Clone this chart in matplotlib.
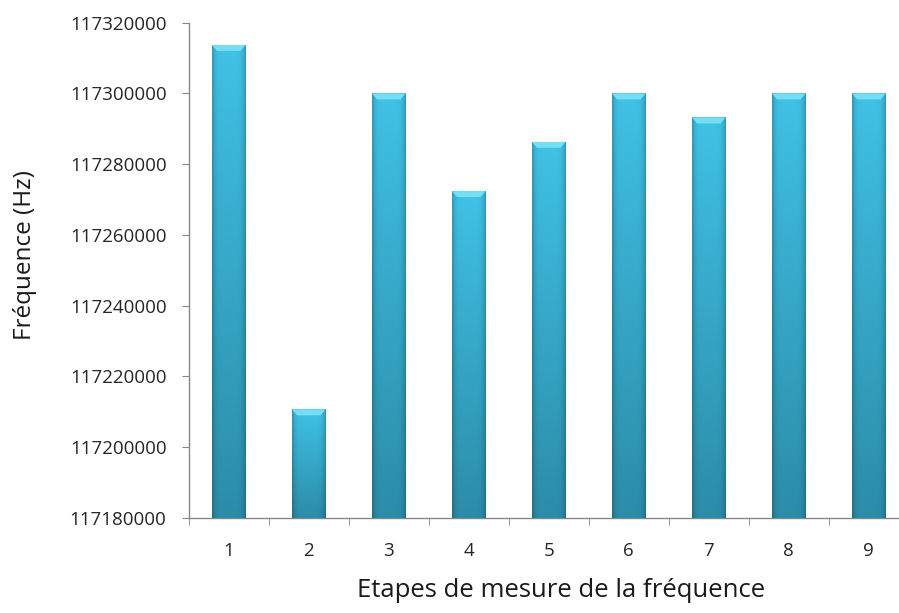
import numpy as np
import matplotlib
matplotlib.use("Agg")
import matplotlib.pyplot as plt
from matplotlib.patches import Polygon
from matplotlib.ticker import FuncFormatter, MultipleLocator

# data
etapes = [1, 2, 3, 4, 5, 6, 7, 8, 9]
frequences = [117313700, 117210700, 117300000, 117272400, 117286300,
              117300000, 117293200, 117300000, 117300000]
y_min, y_max, y_step = 117180000, 117320000, 20000

plt.rcParams['font.family'] = ['Open Sans', 'DejaVu Sans']

fig = plt.figure(figsize=(8.99, 6.13), dpi=100)
ax = fig.add_axes([0.2099, 0.155, 0.801, 0.808])

bars = ax.bar(etapes, [f - y_min for f in frequences], bottom=y_min,
              width=0.42, color='#38b2d6', edgecolor='none', zorder=2)

# glossy gradient for each bar (Excel 2007 look)
ny, nx = 200, 40
v = np.linspace(0, 1, ny)[:, None]          # 0 top -> 1 bottom
h = np.linspace(-1, 1, nx)[None, :]
top_c = np.array([0.25, 0.76, 0.90])
bot_c = np.array([0.17, 0.55, 0.66])
base = top_c[None, None, :] * (1 - v[..., None]) + bot_c[None, None, :] * v[..., None]
edge = 1 - 0.22 * np.abs(h) ** 6
img = np.clip(base * edge[..., None], 0, 1)

bevel_h = (y_max - y_min) * 0.012
for rect in bars:
    x0, w = rect.get_x(), rect.get_width()
    y0, hgt = rect.get_y(), rect.get_height()
    im = ax.imshow(img, extent=[x0, x0 + w, y0, y0 + hgt], aspect='auto',
                   zorder=3, interpolation='bilinear')
    im.set_clip_path(rect)
    top = y0 + hgt
    bevel = Polygon([[x0, top], [x0 + w, top], [x0 + w - w * 0.15, top - bevel_h],
                     [x0 + w * 0.15, top - bevel_h]], closed=True,
                    facecolor='#74def3', edgecolor='none', zorder=4)
    ax.add_patch(bevel)

ax.set_xlim(0.5, 9.5)
ax.set_ylim(y_min, y_max)

ax.yaxis.set_major_locator(MultipleLocator(y_step))
ax.yaxis.set_major_formatter(FuncFormatter(lambda val, pos: f"{int(round(val))}"))
ax.set_xticks(etapes)
ax.set_xticks(np.arange(0.5, 10, 1), minor=True)

axis_col = '#868686'
for s in ['top', 'right']:
    ax.spines[s].set_visible(False)
for s in ['left', 'bottom']:
    ax.spines[s].set_color(axis_col)
    ax.spines[s].set_linewidth(1.0)

ax.tick_params(axis='y', length=5, color=axis_col, pad=11, labelsize=13.5,
               labelcolor='#262626')
ax.tick_params(axis='x', which='major', length=0, pad=17, labelsize=13.5,
               labelcolor='#262626')
ax.tick_params(axis='x', which='minor', length=5, color=axis_col)

fig.text(0.028, 0.584, 'Fréquence (Hz)', rotation=90, ha='center', va='center',
         fontsize=17.5, color='#1a1a1a')
fig.text(0.624, 0.037, 'Etapes de mesure de la fréquence', ha='center', va='center',
         fontsize=18.5, color='#1a1a1a')

fig.savefig('out.png', dpi=100)
